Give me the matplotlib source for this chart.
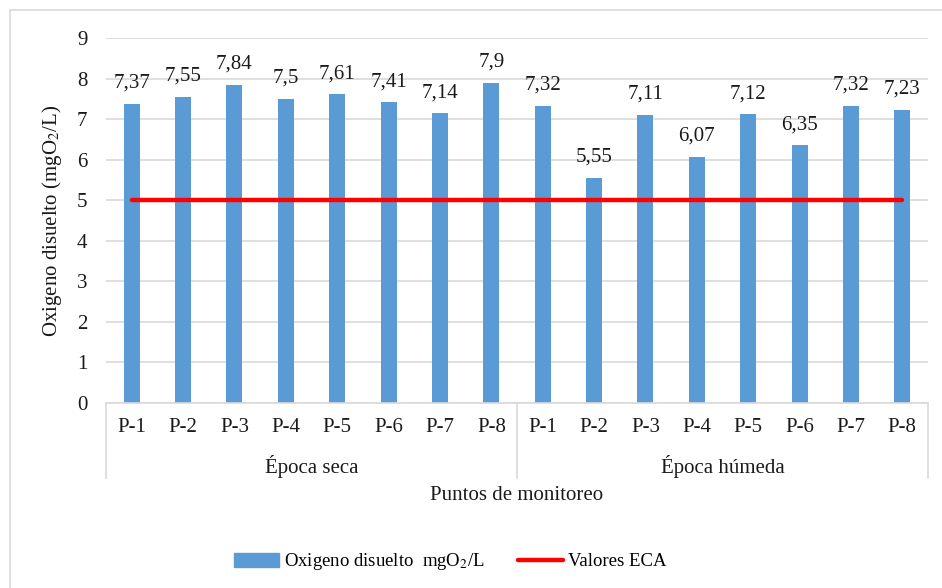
import matplotlib
matplotlib.use("Agg")
import matplotlib.pyplot as plt
import matplotlib.patches as mpatches
from matplotlib.lines import Line2D
import numpy as np

plt.rcParams["font.family"] = ["Liberation Serif", "DejaVu Serif"]
plt.rcParams["mathtext.fontset"] = "stix"

# ── datos ──
puntos = ["P-1", "P-2", "P-3", "P-4", "P-5", "P-6", "P-7", "P-8"]
epocas = ["Época seca", "Época húmeda"]
od_seca = [7.37, 7.55, 7.84, 7.5, 7.61, 7.41, 7.14, 7.9]
od_humeda = [7.32, 5.55, 7.11, 6.07, 7.12, 6.35, 7.32, 7.23]
eca = 5

BLUE = "#5B9BD5"
RED = "#FF0000"
GRID = "#D9D9D9"
TXT = "#1a1a1a"
FS = 15

valores = od_seca + od_humeda
etiquetas = puntos + puntos
x = np.arange(len(valores))

W, H = 942, 588
fig = plt.figure(figsize=(W / 100, H / 100), dpi=100)

# marco exterior del gráfico
fig.patches.append(mpatches.Rectangle(
    (10 / W, -0.1), 1.2, 1.1 - 10 / H, transform=fig.transFigure,
    facecolor="none", edgecolor=GRID, linewidth=1.2))

ax = fig.add_axes([106 / W, 1 - 403 / H, (928 - 106) / W, (403 - 38) / H])

ax.bar(x, valores, width=0.31, color=BLUE, zorder=2)
ax.plot([x[0], x[-1]], [eca, eca], color=RED, linewidth=3.2,
        solid_capstyle="round", zorder=3)

for xi, v in zip(x, valores):
    txt = f"{v:g}".replace(".", ",")
    ax.annotate(txt, (xi, v), xytext=(0, 8), textcoords="offset points",
                ha="center", va="bottom", fontsize=FS, color=TXT)

ax.set_xlim(-0.5, len(valores) - 0.5)
ax.set_ylim(0, 9)
ax.set_yticks(range(0, 10))
ax.grid(axis="y", color=GRID, linewidth=1.2, zorder=0)
ax.set_axisbelow(True)
for s in ["top", "right", "left"]:
    ax.spines[s].set_visible(False)
ax.spines["bottom"].set_color(GRID)
ax.spines["bottom"].set_linewidth(1.2)
ax.tick_params(axis="y", length=0, pad=13.5, labelsize=FS, labelcolor=TXT)
ax.set_xticks(x)
ax.set_xticklabels(etiquetas)
ax.tick_params(axis="x", length=0, pad=11, labelsize=FS, labelcolor=TXT)

ax.set_ylabel("Oxigeno disuelto (mgO$_2$/L)", fontsize=FS, color=TXT,
              labelpad=9)

# separadores y etiquetas de época
trans = ax.get_xaxis_transform()
sep_len = (478 - 403) / (403 - 38)
for xs in [-0.5, 7.5, 15.5]:
    ax.add_line(Line2D([xs, xs], [0, -sep_len], transform=trans,
                       color=GRID, linewidth=1.2, clip_on=False))
grp_y = -(466 - 403) / (403 - 38)
for i, ep in enumerate(epocas):
    ax.text(3.5 + 8 * i, grp_y, ep, transform=trans, ha="center",
            va="center", fontsize=FS, color=TXT)

fig.text(517 / W, 1 - 495 / H, "Puntos de monitoreo", ha="center",
         va="center", fontsize=FS, color=TXT)

handles = [
    mpatches.Patch(color=BLUE, label="Oxigeno disuelto  mgO$_2$/L"),
    Line2D([], [], color=RED, linewidth=3.2, solid_capstyle="round",
           label="Valores ECA"),
]
fig.legend(handles=handles, loc="center", bbox_to_anchor=(450 / W, 1 - 562 / H),
           ncol=2, frameon=False, fontsize=13.5, handlelength=2.4,
           handletextpad=0.25, columnspacing=1.8)

fig.savefig("out.png", dpi=100, facecolor="white")
